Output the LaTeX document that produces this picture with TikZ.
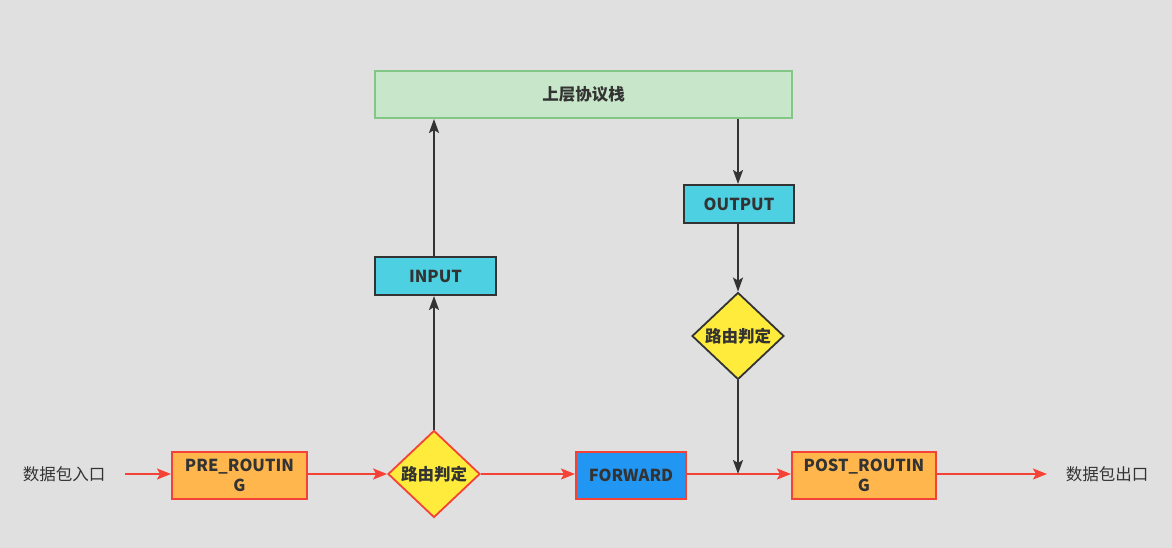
\documentclass[tikz,border=0pt]{standalone}
\usepackage{fontspec}
\setmainfont{Noto Sans CJK SC}
\usetikzlibrary{shapes.geometric,arrows.meta}
\definecolor{bg}{HTML}{E0E0E0}
\definecolor{txt}{HTML}{333333}
\definecolor{redl}{HTML}{F44336}
\definecolor{greenf}{HTML}{C8E6C9}
\definecolor{greend}{HTML}{82C785}
\definecolor{cyanf}{HTML}{4DD0E1}
\definecolor{yellowf}{HTML}{FFEB3B}
\definecolor{orangef}{HTML}{FFB74D}
\definecolor{bluef}{HTML}{2196F3}
\tikzset{
  lbl/.style={font=\fontsize{16.5}{20}\selectfont\bfseries, text=txt, align=center, inner sep=0pt},
  boxn/.style={lbl, draw, line width=2pt, minimum height=38pt, anchor=north west},
  dia/.style={lbl, diamond, draw, line width=1.8pt, fill=yellowf, minimum width=92pt, minimum height=87pt, aspect=1.06},
  redarr/.style={draw=redl, line width=2pt, -{Stealth[length=14pt,width=11pt,inset=3pt]}},
  blkarr/.style={draw=txt, line width=2pt, -{Stealth[length=14pt,width=10pt,inset=3pt]}},
}
\begin{document}
\begin{tikzpicture}[x=1pt,y=-1pt]
\fill[bg] (0,0) rectangle (1172,548);
\useasboundingbox (0,0) rectangle (1172,548);
% top
\node[boxn, draw=greend, fill=greenf, minimum width=417pt, minimum height=47pt] (stack) at (374,70) {上层协议栈};
\node[boxn, draw=txt, fill=cyanf, minimum width=121pt] (input) at (374,256) {INPUT};
\node[boxn, draw=txt, fill=cyanf, minimum width=110pt] (output) at (683,184) {OUTPUT};
\node[dia, draw=txt] (d2) at (738,336) {路由判定};
\node[dia, draw=redl] (d1) at (434,474) {路由判定};
\node[boxn, draw=redl, fill=orangef, minimum width=135pt, minimum height=47pt] (pre) at (171,451) {PRE\_ROUTIN\\G};
\node[boxn, draw=redl, fill=bluef, minimum width=110pt, minimum height=47pt] (fwd) at (575,451) {FORWARD};
\node[boxn, draw=redl, fill=orangef, minimum width=144pt, minimum height=47pt] (post) at (791,451) {POST\_ROUTIN\\G};
\node[font=\fontsize{16.5}{20}\selectfont, text=txt, inner sep=0pt] (in) at (64,474) {数据包入口};
\node[font=\fontsize{16.5}{20}\selectfont, text=txt, inner sep=0pt] (out) at (1107,474) {数据包出口};
\coordinate (ina) at (125,474);
\coordinate (outa) at (1047,474);
\coordinate (join) at (738,474);
% red flow
\draw[redarr] (ina) -- (pre.west |- ina);
\draw[redarr] (pre.east |- d1.west) -- (d1.west);
\draw[redarr] (d1.east) -- (fwd.west |- d1.east);
\draw[redarr] (fwd.east |- join) -- (post.west |- join);
\draw[redarr] (post.east |- outa) -- (outa);
% black flow
\draw[blkarr] (d1.north) -- (input.south -| d1.north);
\draw[blkarr] (input.north -| d1.north) -- (stack.south -| d1.north);
\draw[blkarr] (stack.south -| d2.north) -- (output.north -| d2.north);
\draw[blkarr] (output.south -| d2.north) -- (d2.north);
\draw[blkarr] (d2.south) -- (join);
\end{tikzpicture}
\end{document}
